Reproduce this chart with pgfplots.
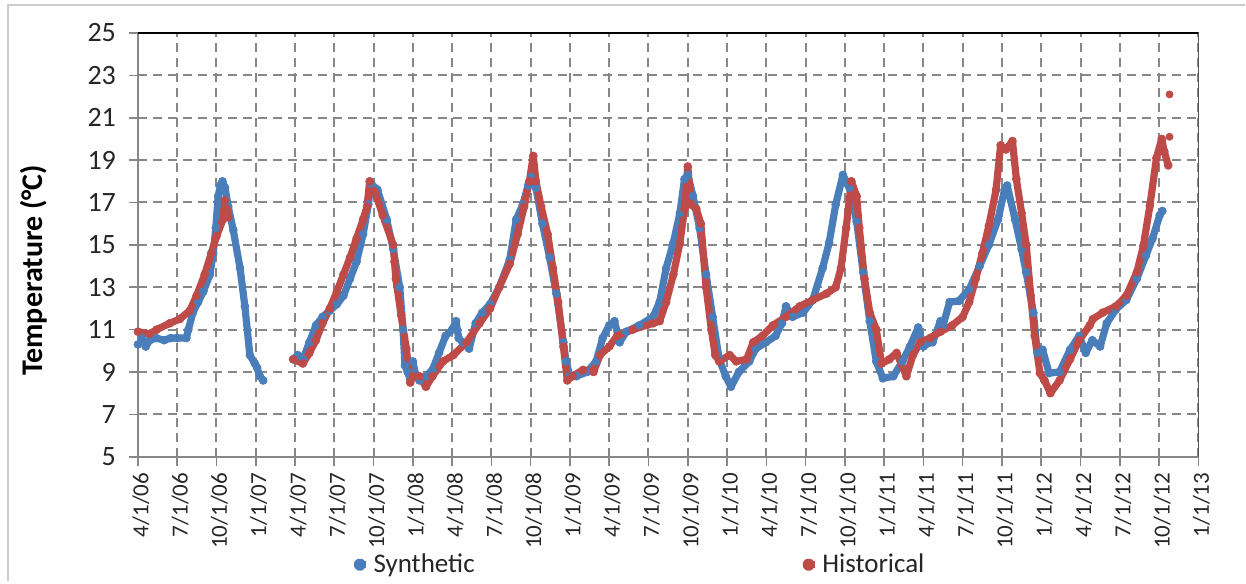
\documentclass[border=0pt]{standalone}
\usepackage{pgfplots}
\pgfplotsset{compat=1.18}
\usepackage{fontspec}
\setmainfont{Carlito}
\definecolor{synblue}{HTML}{4A7EBB}
\definecolor{histred}{HTML}{BE4B48}
\definecolor{gridgray}{HTML}{878787}
\begin{document}
\begin{tikzpicture}
\path (-69pt,-62pt) rectangle (554pt,228.5pt);
\draw[gray!40, line width=0.7pt] (-65pt,-62pt) -- (-65pt,226pt) -- (554pt,226pt);
\begin{axis}[
  scale only axis, width=530.5pt, height=212pt,
  xmin=0, xmax=81, ymin=5, ymax=25,
  xtick={0,3,...,81}, ytick={5,7,...,25},
  xticklabels={4/1/06,7/1/06,10/1/06,1/1/07,4/1/07,7/1/07,10/1/07,1/1/08,4/1/08,7/1/08,10/1/08,1/1/09,4/1/09,7/1/09,10/1/09,1/1/10,4/1/10,7/1/10,10/1/10,1/1/11,4/1/11,7/1/11,10/1/11,1/1/12,4/1/12,7/1/12,10/1/12,1/1/13},
  xtick pos=left, ytick pos=left,
  tick align=center, major tick length=9pt,
  tick style={gridgray, line width=0.8pt},
  axis line style={gridgray, line width=0.8pt},
  grid=major,
  major grid style={gridgray, line width=1pt, dash pattern=on 4.5pt off 3pt},
  /pgf/number format/assume math mode=true,
  xticklabel style={font=\fontsize{11.5}{13}\selectfont, text=black!85, rotate=90, anchor=east, yshift=-1.5pt},
  yticklabel style={font=\fontsize{14}{16}\selectfont, text=black!85, xshift=-3pt},
  ylabel={\textbf{Temperature (°C)}},
  ylabel style={at={(axis description cs:-0.0985,0.44)}, anchor=center, font=\fontsize{15}{17}\selectfont},
  unbounded coords=jump,
  legend columns=2,
  legend style={at={(axis description cs:0.4745,-0.2547)}, anchor=center, draw=none, fill=none,
    font=\fontsize{13.5}{15}\selectfont, text=black!85,
    /tikz/column 2/.style={column sep=162pt}},
  legend cell align=left,
  legend image code/.code={\fill[#1] (0pt,0pt) circle (1.3pt); \path (-1.3pt,0pt) -- (3pt,0pt);},
]
\addplot[synblue, line width=3.6pt, mark=*, mark size=2pt, mark options={line width=0.3pt}, line join=round] coordinates {
(0,10.3) (0.3,10.6) (0.6,10.2) (0.9,10.5) (1.4,10.6) (2,10.5) (2.5,10.6) (3,10.6) (3.7,10.6) (3.85,11.0) (4.2,11.8) (4.6,12.3) (5.0,12.8) (5.5,13.6) (5.75,14.6) (5.95,15.8) (6.13,17.3) (6.3,17.8) (6.46,18.0) (6.65,17.7) (6.9,16.8) (7.28,15.7) (7.8,13.9) (8.17,12.1) (8.55,9.8) (8.93,9.4) (9.1,9.2) (9.31,8.8) (9.57,8.6)
(10.5,nan)
(11.86,9.6) (12.2,9.8) (12.6,9.6) (13.1,10.4) (13.6,11.2) (14.1,11.6) (14.66,11.9) (15.2,12.2) (15.7,12.6) (16.2,13.4) (16.7,14.2) (17.2,15.5) (17.6,16.9) (17.8,17.9) (18.3,17.6) (19.0,16.2) (19.5,14.8) (20.0,13.0) (20.25,11.0) (20.4,9.3) (20.6,9.0) (20.76,8.8) (21.0,9.5) (21.2,8.9) (21.5,8.6) (22.0,8.8) (22.5,9.1) (23.0,9.9) (23.5,10.7) (24.0,11.0) (24.3,11.4) (24.5,10.6) (24.8,10.4) (25.3,10.1) (25.8,11.3) (26.3,11.8) (26.9,12.2) (27.6,13.0) (28.4,14.3) (28.9,16.2) (29.4,16.9) (29.8,17.8) (30.05,18.2) (30.4,17.7) (30.9,16.0) (31.45,14.4) (31.96,12.7) (32.5,10.4) (32.7,9.5) (33.0,8.8) (33.5,8.8) (34.3,9.0) (35.0,9.5) (35.5,10.6) (36.0,11.2) (36.4,11.4) (36.8,10.4) (37.3,10.9) (38.3,11.2) (39.35,11.6) (39.85,12.3) (40.35,13.9) (40.9,15.1) (41.4,16.5) (41.75,18.1) (42.0,18.3) (42.4,17.3) (42.9,15.8) (43.4,13.6) (43.9,11.6) (44.4,9.6) (44.9,8.8) (45.3,8.3) (45.9,9.0) (46.7,9.5) (47.2,10.1) (47.97,10.4) (48.7,10.7) (49.2,11.3) (49.5,12.1) (50.0,11.6) (50.8,11.8) (51.55,12.4) (52.3,13.9) (52.8,15.1) (53.3,16.9) (53.85,18.3) (54.35,17.7) (54.9,16.1) (55.4,13.7) (55.9,11.4) (56.4,9.5) (56.9,8.7) (57.7,8.8) (58.4,9.5) (58.97,10.2) (59.6,11.1) (60.0,10.2) (60.5,10.4) (60.7,10.4) (61.3,11.4) (61.5,11.2) (62.0,12.3) (62.7,12.35) (63.5,12.9) (64.3,14.0) (65.0,15.0) (65.7,16.2) (66.2,17.6) (66.4,17.8) (67.0,16.2) (67.5,14.8) (67.85,13.7) (68.4,11.8) (68.7,9.9) (69.1,10.05) (69.6,8.95) (70.4,9.0) (71.2,10.05) (71.9,10.7) (72.4,9.9) (72.9,10.5) (73.5,10.2) (74.0,11.3) (74.7,11.95) (75.5,12.4) (76.3,13.4) (77.0,14.5) (77.5,15.3) (78.05,16.4) (78.25,16.6)
};
\addlegendentry{Synthetic}
\addplot[histred, line width=3.6pt, mark=*, mark size=2pt, mark options={line width=0.3pt}, line join=round] coordinates {
(0,10.9) (0.9,10.8) (1.43,11.0) (2.44,11.3) (3.2,11.5) (3.97,11.9) (4.48,12.6) (5.1,13.6) (5.6,14.6) (6.0,15.4) (6.5,16.2) (6.64,17.1) (6.77,16.7) (6.9,16.3)
(9,nan)
(11.86,9.6) (12.6,9.4) (13.1,9.9) (13.6,10.5) (14.1,11.3) (14.66,12.0) (15.2,12.8) (15.7,13.6) (16.2,14.4) (16.7,15.3) (17.2,16.2) (17.5,16.8) (17.7,18.0) (18.1,17.5) (18.7,16.4) (19.5,15.0) (19.6,14.2) (19.7,13.4) (20.1,11.7) (20.5,10.1) (20.8,8.5) (21.0,8.8) (21.5,8.8) (22.0,8.3) (22.5,8.8) (23.3,9.5) (24.1,9.8) (25.1,10.4) (26.1,11.3) (26.9,12.0) (27.6,13.0) (28.4,14.1) (29.0,15.5) (29.5,16.8) (29.9,18.0) (30.2,19.2) (30.4,18.0) (30.8,16.8) (31.3,15.5) (31.7,13.9) (32.1,12.3) (32.5,10.2) (32.8,8.6) (33.2,8.8) (34.0,9.1) (34.8,9.0) (35.3,9.8) (36.0,10.2) (36.6,10.7) (37.8,11.0) (39.35,11.3) (39.85,11.4) (40.35,12.3) (40.9,13.6) (41.4,15.1) (41.75,16.7) (42.0,18.7) (42.25,16.9) (42.65,16.7) (43.0,16.0) (43.4,13.0) (43.8,11.0) (44.1,9.8) (44.4,9.5) (45.2,9.8) (45.7,9.5) (46.5,9.6) (47.0,10.4) (47.7,10.7) (48.5,11.2) (49.5,11.6) (50.55,12.1) (51.55,12.4) (52.6,12.7) (53.3,13.0) (53.7,13.9) (54.1,15.8) (54.5,18.0) (54.9,17.3) (55.1,15.8) (55.5,13.4) (55.9,11.8) (56.4,11.0) (56.8,9.4) (57.4,9.6) (57.95,9.9) (58.7,8.8) (59.2,9.8) (59.75,10.4) (60.5,10.6) (61.3,10.9) (62.2,11.2) (63.0,11.6) (63.5,12.3) (64.0,13.4) (64.5,14.6) (65.0,15.9) (65.55,17.6) (65.9,19.7) (66.3,19.5) (66.8,19.9) (67.1,18.1) (67.5,16.5) (67.85,15.0) (68.2,12.6) (68.5,10.7) (68.9,8.95) (69.25,8.6) (69.7,8.0) (70.4,8.6) (71.2,9.6) (71.9,10.5) (72.7,11.2) (72.95,11.5) (73.7,11.8) (74.7,12.1) (75.5,12.6) (76.3,13.7) (76.8,14.95) (77.3,16.85) (77.8,19.1) (78.2,20.0) (78.4,19.4) (78.7,18.75)
};
\addlegendentry{Historical}
\addplot[histred, only marks, mark=*, mark size=1.8pt, mark options={line width=0.3pt}, forget plot] coordinates {(78.8,20.1) (78.8,22.1)};
\draw[black, line width=0.8pt] (rel axis cs:0,1) -- (rel axis cs:1,1) -- (rel axis cs:1,0);
\end{axis}
\end{tikzpicture}
\end{document}
